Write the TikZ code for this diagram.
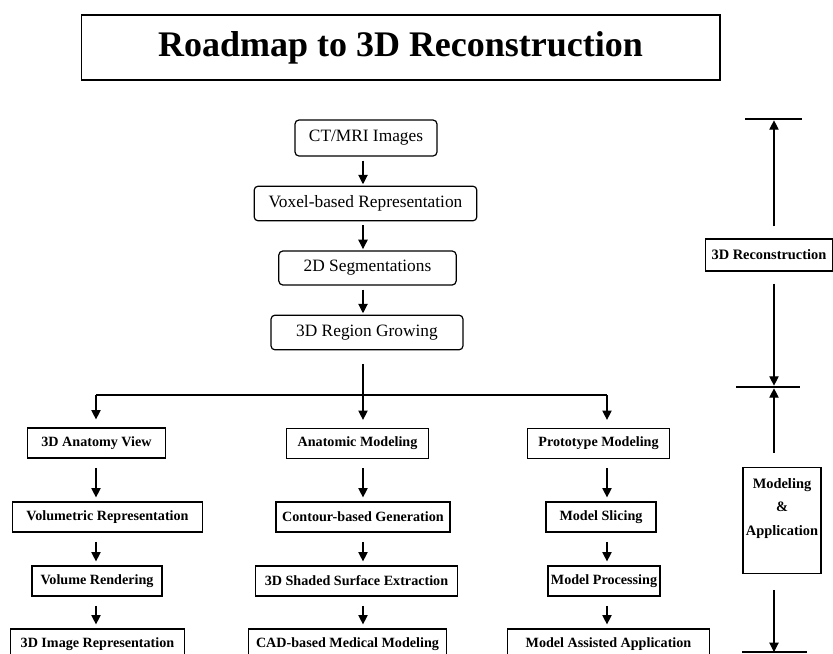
\documentclass[tikz,border=0pt]{standalone}
\usepackage{fontspec}
\setmainfont{Liberation Serif}
\usepackage{xcolor}
\usepackage{tikz}
\usetikzlibrary{positioning,shapes,arrows,arrows.meta,calc}

\begin{document}
\begin{tikzpicture}[x=0.75pt, y=-0.75pt,
    >={Triangle[width=7pt,length=7pt]},
    topbox/.style={draw, line width=0.9pt, rounded corners=3pt, inner sep=0pt, font=\fontsize{13}{15}\selectfont},
    subbox/.style={draw, line width=0.9pt, inner sep=0pt, minimum height=22.5pt, font=\fontsize{10.6}{13}\selectfont\bfseries},
    flow/.style={->, line width=0.8pt, shorten <=3pt, shorten >=1pt},
    sub/.style={->, line width=0.8pt, shorten <=7pt, shorten >=3pt},
    rule/.style={line width=0.8pt}]
    \useasboundingbox (0,0) rectangle (833,654);
    \clip (0,0) rectangle (833,654);

    \node[draw, line width=1pt, minimum width=479pt, minimum height=48.75pt] (title) at (400.5,47.5)
        {\fontsize{27}{30}\selectfont\bfseries Roadmap to 3D Reconstruction};

    \node[topbox, minimum width=106.5pt, minimum height=27pt] (ct) at (366,138) {CT/MRI Images};
    \node[topbox, minimum width=167pt, minimum height=26pt] (voxel) at (365.5,203.5) {Voxel-based Representation};
    \node[topbox, minimum width=133pt, minimum height=25.5pt] (seg) at (367.5,268) {2D Segmentations};
    \node[topbox, minimum width=144pt, minimum height=26pt] (grow) at (367,332.5) {3D Region Growing};

    \coordinate (bus) at (363,395);
    \coordinate (lbus) at (96,395);
    \coordinate (rbus) at (607,395);

    \draw[flow] (ct.south -| bus) -- (voxel.north -| bus);
    \draw[flow] (voxel.south -| bus) -- (seg.north -| bus);
    \draw[flow] (seg.south -| bus) -- (grow.north -| bus);
    \draw[rule, shorten <=10pt] (grow.south -| bus) -- (bus);
    \draw[rule] (lbus) -- (rbus);

    \node[subbox, minimum width=104pt] (anat) at (96.5,443) {3D Anatomy View};
    \node[subbox, minimum width=143pt] (volrep) at (107.5,517) {Volumetric Representation};
    \node[subbox, minimum width=97.5pt] (volren) at (97,581) {Volume Rendering};
    \node[subbox, minimum width=131pt] (imgrep) at (97.5,644) {3D Image Representation};

    \node[subbox, minimum width=107pt] (anatmod) at (357.5,443.5) {Anatomic Modeling};
    \node[subbox, minimum width=130.5pt] (contour) at (363,517) {Contour-based Generation};
    \node[subbox, minimum width=152pt] (shaded) at (356.5,581) {3D Shaded Surface Extraction};
    \node[subbox, minimum width=148pt] (cad) at (347.5,644) {CAD-based Medical Modeling};

    \node[subbox, minimum width=106pt] (proto) at (598.5,443.5) {Prototype Modeling};
    \node[subbox, minimum width=82.5pt] (slicing) at (601,517) {Model Slicing};
    \node[subbox, minimum width=84pt] (process) at (604,581) {Model Processing};
    \node[subbox, minimum width=152pt] (assist) at (608.5,644) {Model Assisted Application};

    \draw[->, line width=0.8pt, shorten >=6pt] (lbus) -- (anat.north -| lbus);
    \draw[->, line width=0.8pt, shorten >=6pt] (bus) -- (anatmod.north -| bus);
    \draw[->, line width=0.8pt, shorten >=6pt] (rbus) -- (proto.north -| rbus);

    \draw[sub] (anat.south -| lbus) -- (volrep.north -| lbus);
    \draw[sub] (volrep.south -| lbus) -- (volren.north -| lbus);
    \draw[sub] (volren.south -| lbus) -- (imgrep.north -| lbus);
    \draw[sub] (anatmod.south -| bus) -- (contour.north -| bus);
    \draw[sub] (contour.south -| bus) -- (shaded.north -| bus);
    \draw[sub] (shaded.south -| bus) -- (cad.north -| bus);
    \draw[sub] (proto.south -| rbus) -- (slicing.north -| rbus);
    \draw[sub] (slicing.south -| rbus) -- (process.north -| rbus);
    \draw[sub] (process.south -| rbus) -- (assist.north -| rbus);

    \node[subbox, minimum width=95.25pt, minimum height=24pt, font=\fontsize{10.8}{13}\selectfont\bfseries] (recon) at (769,255) {3D Reconstruction};
    \node[subbox, minimum width=58.5pt, minimum height=79pt] (modapp) at (782,520.5) {};
    \node[align=center, inner sep=0pt, font=\fontsize{10.8}{17.5}\selectfont\bfseries] (modtext) at ($(modapp)+(0,-12)$)
        {Modeling\\\&\\Application};

    \coordinate (tA) at (774,119);
    \coordinate (tB) at (774,387);
    \coordinate (tC) at (774,652);
    \draw[rule] (tA) ++(-29,0) -- ++(57,0);
    \draw[rule] (tB) ++(-38,0) -- ++(64,0);
    \draw[rule] (tC) ++(-32,0) -- ++(65,0);

    \draw[->, rule, shorten <=9pt, shorten >=1pt] (recon.north -| tA) -- (tA);
    \draw[->, rule, shorten <=9pt, shorten >=1pt] (recon.south -| tA) -- (tB);
    \draw[->, rule, shorten <=11pt, shorten >=1pt] (modapp.north -| tA) -- (tB);
    \draw[->, rule, shorten <=12pt] (modapp.south -| tA) -- (tC);
\end{tikzpicture}
\end{document}
